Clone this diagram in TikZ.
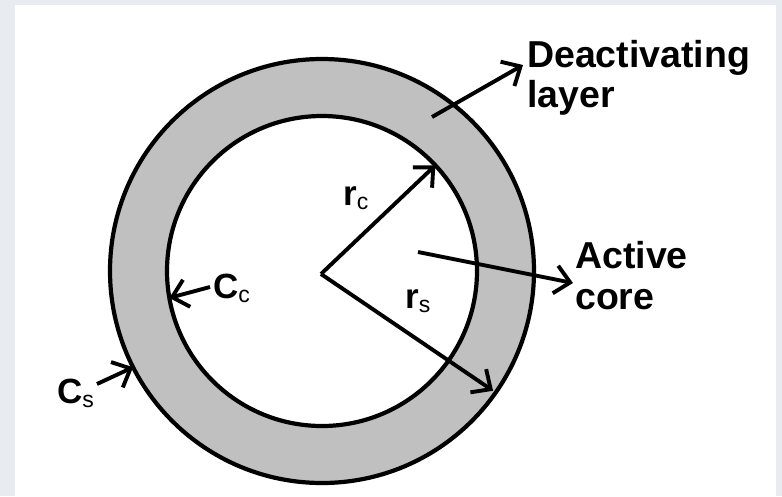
\documentclass[tikz,border=0pt]{standalone}
\usepackage{fontspec}
\setmainfont{Liberation Sans}
\usetikzlibrary{arrows.meta,calc}
\definecolor{bgframe}{HTML}{E8ECF0}
\definecolor{ringgray}{HTML}{C0C0C0}
\newcommand\mylbl[2]{{\fontsize{35}{35}\selectfont\bfseries #1}\raisebox{-4pt}{\fontsize{23}{23}\selectfont #2}}
\begin{document}
\begin{tikzpicture}[x=1pt,y=-1pt,
  ring/.style={circle,draw=black,line width=4.2pt,outer sep=0pt,inner sep=0pt},
  conn/.style={line width=3.9pt,-{Straight Barb[length=15pt,width=28pt]}},
  bigtxt/.style={anchor=base west,inner sep=0pt,font=\fontsize{37.5}{40}\selectfont\bfseries},
  symtxt/.style={anchor=base west,inner sep=0pt}]
\useasboundingbox (0,0) rectangle (782,496);
\fill[bgframe] (0,0) rectangle (782,496);
\fill[white] (15,5) rectangle (776,496);
% rings
\node[ring,fill=ringgray,minimum size=424pt] (outer) at (322,271) {};
\node[ring,fill=white,minimum size=310pt] (inner) at (322,271) {};
% apex of radii
\coordinate (O) at (321,274);
% free ends of label arrows
\coordinate (dstart) at (432,117);
\coordinate (dtip) at (523,65);
\coordinate (astart) at (418,252);
\coordinate (atip) at (573,283);
\coordinate (ccstart) at (210,287);
\coordinate (csstart) at (97,384);
% radii
\draw[conn] (O) -- (inner.43.2);
\draw[conn] (O) -- ($(outer.center)!0.985!(outer.-35.6)$);
% label arrows
\draw[conn] (dstart) -- (dtip);
\draw[conn] (astart) -- (atip);
\draw[conn] (ccstart) -- (inner.190.9);
\draw[conn] (csstart) -- (outer.207);
% texts
\node[bigtxt] (deact1) at (527,67) {Deactivating};
\node[bigtxt] (deact2) at (527,107) {layer};
\node[bigtxt] (act1) at (575,268) {Active};
\node[bigtxt] (act2) at (575,309) {core};
\node[symtxt] (rc) at (343,205) {\mylbl{r}{c}};
\node[symtxt] (rs) at (405,308) {\mylbl{r}{s}};
\node[symtxt] (cc) at (213,298) {\mylbl{C}{c}};
\node[symtxt] (cs) at (57,403) {\mylbl{C}{s}};
\end{tikzpicture}
\end{document}
